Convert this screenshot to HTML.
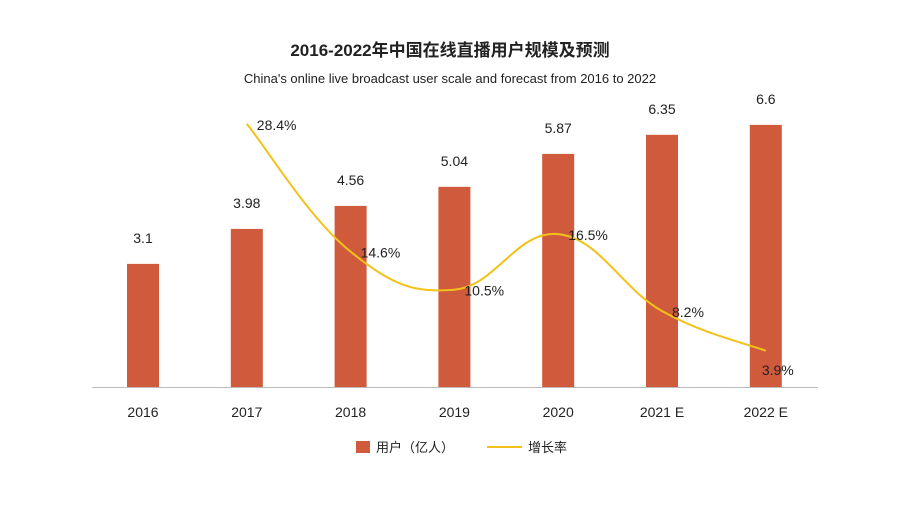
<!DOCTYPE html>
<html><head><meta charset="utf-8"><style>
body{margin:0;background:#fff;}
svg text{font-family:"Liberation Sans","Noto Sans CJK SC",sans-serif;}
</style></head><body>
<svg id="c" width="900" height="506">
<text x="450" y="56" text-anchor="middle" font-size="17" font-weight="bold" fill="#222">2016-2022年中国在线直播用户规模及预测</text>
<text x="450" y="83" text-anchor="middle" font-size="13" fill="#222">China's online live broadcast user scale and forecast from 2016 to 2022</text>
<line x1="92" y1="387.5" x2="818" y2="387.5" stroke="#bbb" stroke-width="1"/>
<g id="bars"></g><g id="line"></g><g id="labels"></g>
<g>
<rect x="356" y="441" width="14" height="12" fill="#d05a3c"/>
<text x="376" y="452" font-size="13" fill="#222">用户（亿人）</text>
<line x1="487" y1="447" x2="522" y2="447" stroke="#f2c21b" stroke-width="2"/>
<text x="528" y="452" font-size="13" fill="#222">增长率</text>
</g>
</svg>
<script>
const categories=["2016","2017","2018","2019","2020","2021 E","2022 E"];
const users=[3.1,3.98,4.56,5.04,5.87,6.35,6.6];
const userLabels=["3.1","3.98","4.56","5.04","5.87","6.35","6.6"];
const growth=[null,28.4,14.6,10.5,16.5,8.2,3.9];
const growthLabels=["","28.4%","14.6%","10.5%","16.5%","8.2%","3.9%"];
const NS="http://www.w3.org/2000/svg";
const x0=143,step=103.8,baseY=387,plotTop=109;
const xs=i=>x0+i*step;
const yb=v=>baseY-(v/7)*(baseY-plotTop);
const yr=v=>baseY-(v/30)*(baseY-plotTop);
function mk(t,a,p){const e=document.createElementNS(NS,t);for(const k in a)e.setAttribute(k,a[k]);document.getElementById(p).appendChild(e);return e;}
categories.forEach((c,i)=>{
 const r=mk('rect',{x:xs(i)-16,y:yb(users[i]),width:32,height:baseY-yb(users[i]),fill:'#d05a3c'},'bars');
 
 
 const t=mk('text',{x:xs(i),y:yb(users[i])-21,'text-anchor':'middle','font-size':14,fill:'#222'},'labels');
 t.textContent=userLabels[i];
 
 
 const xl=mk('text',{x:xs(i),y:417,'text-anchor':'middle','font-size':14,fill:'#222'},'labels');
 xl.textContent=c;
 
 
});
const pts=[];growth.forEach((g,i)=>{if(g!==null)pts.push([xs(i),yr(g),i]);});
let d='M'+pts[0][0]+','+pts[0][1];
for(let k=0;k<pts.length-1;k++){
 const p0=pts[Math.max(0,k-1)],p1=pts[k],p2=pts[k+1],p3=pts[Math.min(pts.length-1,k+2)];
 const t=0.4;
 const c1=[p1[0]+(p2[0]-p0[0])*t/2,p1[1]+(p2[1]-p0[1])*t/2];
 const c2=[p2[0]-(p3[0]-p1[0])*t/2,p2[1]-(p3[1]-p1[1])*t/2];
 d+=' C'+c1+' '+c2+' '+p2[0]+','+p2[1];
}
const path=mk('path',{d:d,fill:'none',stroke:'#f2c21b','stroke-width':2},'line');


pts.forEach((p,k)=>{
 const last=k===pts.length-1;
 const t=mk('text',{x:last?p[0]+12:p[0]+10,y:last?p[1]+24:p[1]+6,'text-anchor':last?'middle':'start','font-size':14,fill:'#222'},'labels');
 t.textContent=growthLabels[p[2]];
 
 
});
</script>
</body></html>
